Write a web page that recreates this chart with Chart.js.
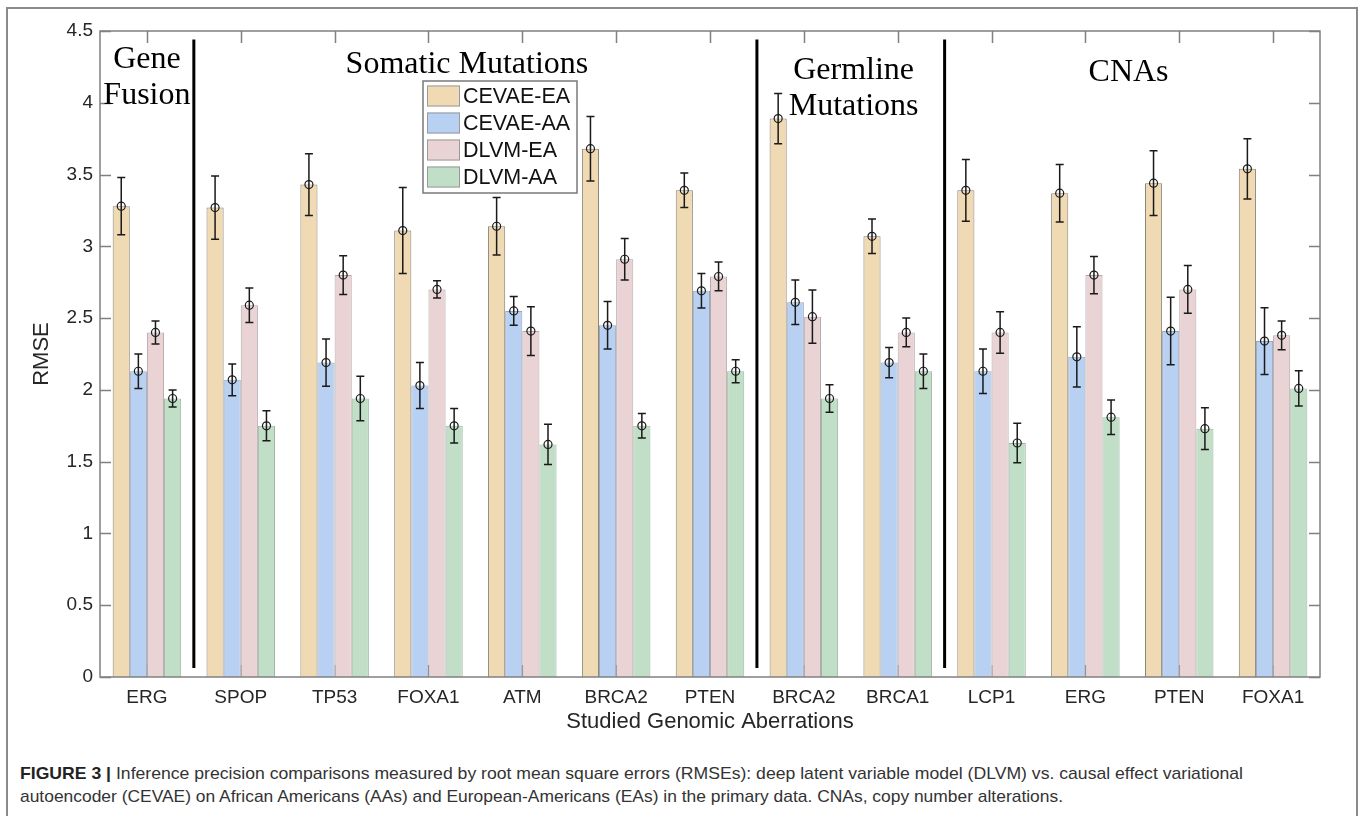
<!DOCTYPE html>
<html>
<head>
<meta charset="utf-8">
<script src="https://cdn.jsdelivr.net/npm/chart.js@4"></script>
<style>
  body { margin: 0; background: #fff; width: 1358px; height: 816px; overflow: hidden; position: relative; }
  #frame { position: absolute; left: 6px; top: 7px; width: 1348px; height: 840px; border: 2px solid #8a8a8a; }
  #graphique { position: absolute; left: 0; top: 0; }
  #caption { position: absolute; left: 20px; top: 762px; width: 1320px; font-family: "Liberation Sans", Arial, sans-serif; font-size: 17px; color: #333; line-height: 23px; }
  #caption span { display: inline-block; white-space: nowrap; transform-origin: 0 0; }
  #caption b { color: #222; }
</style>
</head>
<body>
<div id="frame"></div>
<canvas id="graphique" width="1358" height="745"></canvas>
<div id="caption">
  <span id="cap1"><b>FIGURE 3 |</b> Inference precision comparisons measured by root mean square errors (RMSEs): deep latent variable model (DLVM) vs. causal effect variational</span><br>
  <span id="cap2">autoencoder (CEVAE) on African Americans (AAs) and European-Americans (EAs) in the primary data. CNAs, copy number alterations.</span>
</div>
<script>
// Donn√©es
var categories = ["ERG", "SPOP", "TP53", "FOXA1", "ATM", "BRCA2", "PTEN", "BRCA2", "BRCA1", "LCP1", "ERG", "PTEN", "FOXA1"];
var seriesNames = ["CEVAE-EA", "CEVAE-AA", "DLVM-EA", "DLVM-AA"];

var cevaeEA = [3.28, 3.27, 3.43, 3.11, 3.14, 3.68, 3.39, 3.89, 3.07, 3.39, 3.37, 3.44, 3.54];
var cevaeEAErr = [0.20, 0.22, 0.215, 0.30, 0.20, 0.225, 0.12, 0.175, 0.12, 0.215, 0.20, 0.225, 0.21];
var cevaeAA = [2.13, 2.07, 2.19, 2.03, 2.55, 2.45, 2.69, 2.61, 2.19, 2.13, 2.23, 2.41, 2.34];
var cevaeAAErr = [0.12, 0.11, 0.165, 0.16, 0.10, 0.165, 0.12, 0.155, 0.105, 0.155, 0.21, 0.235, 0.233];
var dlvmEA = [2.40, 2.59, 2.80, 2.70, 2.41, 2.91, 2.79, 2.51, 2.40, 2.40, 2.80, 2.70, 2.38];
var dlvmEAErr = [0.08, 0.12, 0.135, 0.06, 0.17, 0.145, 0.10, 0.185, 0.10, 0.145, 0.13, 0.167, 0.10];
var dlvmAA = [1.94, 1.75, 1.94, 1.75, 1.62, 1.75, 2.13, 1.94, 2.13, 1.63, 1.81, 1.73, 2.01];
var dlvmAAErr = [0.06, 0.105, 0.155, 0.12, 0.14, 0.085, 0.08, 0.095, 0.12, 0.137, 0.12, 0.145, 0.123];

var yTickLabels = ["0", "0.5", "1", "1.5", "2", "2.5", "3", "3.5", "4", "4.5"];

// Groupes (titres en serif) et s√©parateurs verticaux
var groupNames = [["Gene", "Fusion"], ["Somatic Mutations"], ["Germline", "Mutations"], ["CNAs"]];
var groupX = [0, 3.41, 7.53, 10.46];
var groupY = [4.24, 4.206, 4.164, 4.15];
var separators = [0.5, 6.5, 8.5];

var colors = ["#F0DAB4", "#B8D0F2", "#E9D3D5", "#C1DEC7"];
var borders = ["#8a8478", "#9aa6b8", "#b3a8aa", "#9fb5a4"];
var errors = [cevaeEAErr, cevaeAAErr, dlvmEAErr, dlvmAAErr];

// Cadre, graduations, s√©parateurs et titres de groupes
var decorPlugin = {
  id: "decor",
  beforeDatasetsDraw: function(chart) {
    var ctx = chart.ctx;
    var a = chart.chartArea;
    var xs = chart.scales.x;
    var ys = chart.scales.y;
    ctx.save();
    ctx.strokeStyle = "#808080";
    ctx.lineWidth = 1.5;
    ctx.beginPath();
    for (var i = 0; i < categories.length; i++) {
      var px = Math.round(xs.getPixelForValue(i)) + 0.5;
      ctx.moveTo(px, a.bottom); ctx.lineTo(px, a.bottom - 12);
      ctx.moveTo(px, a.top); ctx.lineTo(px, a.top + 12);
    }
    for (var j = 0; j < yTickLabels.length; j++) {
      var py = Math.round(ys.getPixelForValue(j * 0.5)) + 0.5;
      ctx.moveTo(a.left, py); ctx.lineTo(a.left + 11, py);
      ctx.moveTo(a.right, py); ctx.lineTo(a.right - 11, py);
    }
    ctx.stroke();
    ctx.restore();
  },
  afterDatasetsDraw: function(chart) {
    var ctx = chart.ctx;
    var a = chart.chartArea;
    var xs = chart.scales.x;
    var ys = chart.scales.y;
    ctx.save();
    // bo√Æte du graphique
    ctx.strokeStyle = "#808080";
    ctx.lineWidth = 1.5;
    ctx.strokeRect(a.left, a.top, a.right - a.left, a.bottom - a.top);

    // s√©parateurs
    ctx.strokeStyle = "#000";
    ctx.lineWidth = 3;
    ctx.beginPath();
    for (var s = 0; s < separators.length; s++) {
      var sx = xs.getPixelForValue(separators[s]);
      ctx.moveTo(sx, ys.getPixelForValue(4.44));
      ctx.lineTo(sx, ys.getPixelForValue(0.063));
    }
    ctx.stroke();

    // titres des groupes
    ctx.fillStyle = "#000";
    ctx.font = "32px 'Liberation Serif', 'Times New Roman', serif";
    ctx.textAlign = "center";
    ctx.textBaseline = "alphabetic";
    for (var g = 0; g < groupNames.length; g++) {
      var gx = xs.getPixelForValue(groupX[g]);
      var gy = ys.getPixelForValue(groupY[g]);
      for (var l = 0; l < groupNames[g].length; l++) {
        ctx.fillText(groupNames[g][l], gx, gy + l * 36);
      }
    }
    ctx.restore();
  }
};

// Barres d'erreur avec marqueur rond
var errorBarPlugin = {
  id: "errorBars",
  afterDatasetsDraw: function(chart) {
    var ctx = chart.ctx;
    var ys = chart.scales.y;
    ctx.save();
    ctx.strokeStyle = "#1a1a1a";
    ctx.lineWidth = 1.5;
    for (var d = 0; d < chart.data.datasets.length; d++) {
      var meta = chart.getDatasetMeta(d);
      var vals = chart.data.datasets[d].data;
      for (var i = 0; i < vals.length; i++) {
        var x = meta.data[i].x;
        var yv = ys.getPixelForValue(vals[i]);
        var yTop = ys.getPixelForValue(vals[i] + errors[d][i]);
        var yBot = ys.getPixelForValue(vals[i] - errors[d][i]);
        ctx.beginPath();
        ctx.moveTo(x, yTop); ctx.lineTo(x, yBot);
        ctx.moveTo(x - 4, yTop); ctx.lineTo(x + 4, yTop);
        ctx.moveTo(x - 4, yBot); ctx.lineTo(x + 4, yBot);
        ctx.stroke();
        ctx.beginPath();
        ctx.lineWidth = 1.2;
        ctx.arc(x, yv, 4, 0, Math.PI * 2);
        ctx.stroke();
        ctx.lineWidth = 1.5;
      }
    }
    ctx.restore();
  }
};

// L√©gende dessin√©e dans la zone du graphique
var legendPlugin = {
  id: "legendBox",
  afterDraw: function(chart) {
    var ctx = chart.ctx;
    var a = chart.chartArea;
    var left = a.left + 323;
    var top = a.top + 50;
    ctx.save();
    ctx.fillStyle = "#fff";
    ctx.fillRect(left, top, 154, 112);
    ctx.strokeStyle = "#7a7a7a";
    ctx.lineWidth = 1.5;
    ctx.strokeRect(left, top, 154, 112);
    ctx.font = "21.5px 'Liberation Sans', Arial, sans-serif";
    ctx.textAlign = "left";
    ctx.textBaseline = "middle";
    for (var k = 0; k < seriesNames.length; k++) {
      var cy = top + 15 + k * 27;
      ctx.fillStyle = colors[k];
      ctx.fillRect(left + 4, cy - 10.5, 33, 21);
      ctx.strokeStyle = "#9a9a9a";
      ctx.lineWidth = 1;
      ctx.strokeRect(left + 4.5, cy - 10, 32, 20);
      ctx.fillStyle = "#111";
      ctx.fillText(seriesNames[k], left + 40, cy + 1);
    }
    ctx.restore();
  }
};

var valeurs = [cevaeEA, cevaeAA, dlvmEA, dlvmAA];
var datasets = [];
for (var n = 0; n < seriesNames.length; n++) {
  datasets.push({
    label: seriesNames[n],
    data: valeurs[n],
    backgroundColor: colors[n],
    borderColor: borders[n],
    borderWidth: 1,
    categoryPercentage: 0.73,
    barPercentage: 1.0
  });
}

var ctx = document.getElementById("graphique").getContext("2d");
var chart = new Chart(ctx, {
  type: "bar",
  data: { labels: categories, datasets: datasets },
  options: {
    responsive: false,
    animation: false,
    devicePixelRatio: 1,
    layout: { padding: { left: 0, right: 38, top: 31, bottom: 0 } },
    plugins: {
      legend: { display: false },
      tooltip: { enabled: false }
    },
    scales: {
      x: {
        offset: true,
        grid: { display: false, drawTicks: false },
        border: { display: false },
        ticks: { color: "#262626", font: { family: "'Liberation Sans', Arial, sans-serif", size: 19 }, padding: 9, autoSkip: false, maxRotation: 0 },
        title: { display: true, text: "Studied Genomic Aberrations", color: "#262626", font: { family: "'Liberation Sans', Arial, sans-serif", size: 22 }, padding: { top: 10, bottom: 10 } },
        afterFit: function(scale) { scale.height = 68; }
      },
      y: {
        min: 0,
        max: 4.5,
        grid: { display: false, drawTicks: false },
        border: { display: false },
        ticks: {
          stepSize: 0.5,
          color: "#262626",
          font: { family: "'Liberation Sans', Arial, sans-serif", size: 19 },
          padding: 7,
          callback: function(value, index) { return yTickLabels[index]; }
        },
        title: { display: true, text: "RMSE", color: "#262626", font: { family: "'Liberation Sans', Arial, sans-serif", size: 22 }, padding: { top: 29, bottom: 29 } },
        afterFit: function(scale) { scale.width = 100; }
      }
    }
  },
  plugins: [decorPlugin, errorBarPlugin, legendPlugin]
});

// Ajuste la l√©gende de la figure √† la largeur d'origine
function ajusterLigne(id, largeur) {
  var el = document.getElementById(id);
  var w = el.getBoundingClientRect().width;
  el.style.transform = "scaleX(" + (largeur / w) + ")";
}
ajusterLigne("cap1", 1223);
ajusterLigne("cap2", 1043);
</script>
</body>
</html>
